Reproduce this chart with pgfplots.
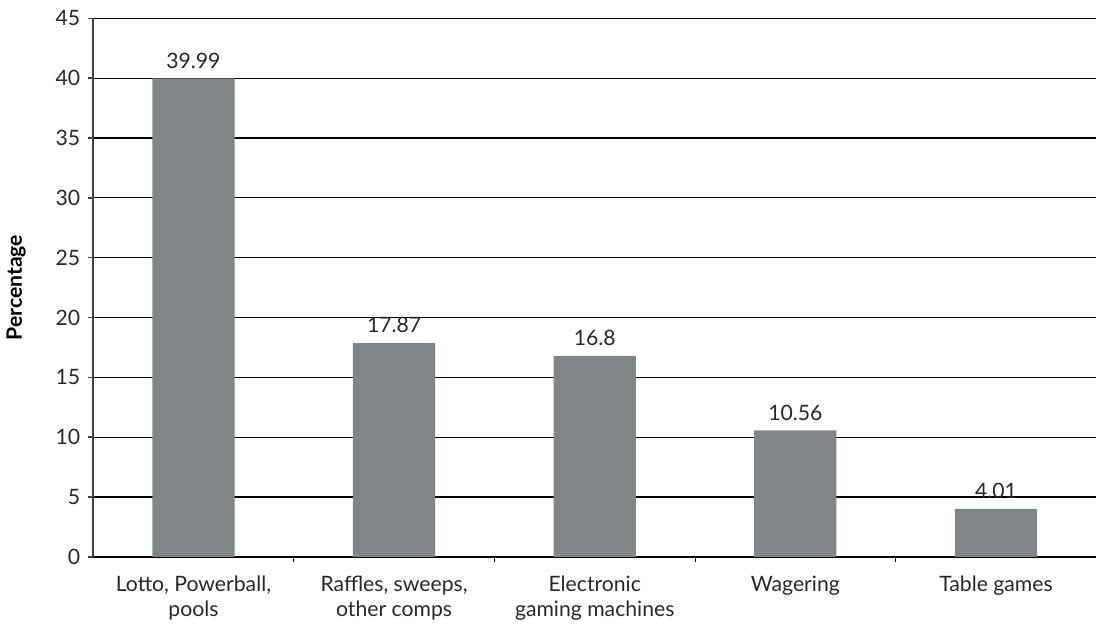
\documentclass[border=0pt]{standalone}
\usepackage{fontspec}
\setmainfont{Lato}
\usepackage{pgfplots}
\pgfplotsset{compat=1.18}
\definecolor{bargray}{RGB}{128,133,135}
\definecolor{txt}{RGB}{40,40,40}
\begin{document}
\begin{tikzpicture}
\begin{axis}[
  scale only axis,
  width=502pt, height=269.5pt,
  ybar, bar width=0.41,
  xmin=-0.5, xmax=4.5,
  ymin=0, ymax=45,
  ytick={0,5,...,45},
  xtick={0,1,2,3,4},
  xticklabels={{Lotto, Powerball,\\pools},{Raffles, sweeps,\\other comps},{Electronic\\gaming machines},{Wagering},{Table games}},
  minor xtick={0.5,1.5,2.5,3.5},
  axis x line=bottom, axis y line=left,
  axis line style={-, draw=black!75, line width=0.7pt},
  x axis line style={draw=black},
  tick align=outside,
  major tick length=2.5pt, minor tick length=2.5pt,
  xtick style={draw=none},
  minor x tick style={draw=black, line width=0.5pt},
  ytick style={draw=black!75, line width=0.7pt},
  ymajorgrids, grid style={black, line width=0.65pt},
  /pgf/number format/assume math mode=true,
  ticklabel style={font=\fontsize{10.6}{12.5}\selectfont, text=txt},
  xticklabel style={align=center, yshift=-3.5pt},
  yticklabel style={xshift=-0.5pt},
  ylabel={\textbf{Percentage}},
  ylabel style={font=\fontsize{10.6}{12}\selectfont, text=black, yshift=8pt},
  nodes near coords,
  every node near coord/.append style={font=\fontsize{10.6}{12}\selectfont, text=txt, yshift=1.5pt},
]
\addplot[fill=bargray, draw=none] coordinates {
(0,39.99) (1,17.87) (2,16.8) (3,10.56) (4,4.01)
};
\end{axis}
\useasboundingbox (current bounding box.south west) rectangle ([yshift=2pt]current bounding box.north east);
\end{tikzpicture}
\end{document}
